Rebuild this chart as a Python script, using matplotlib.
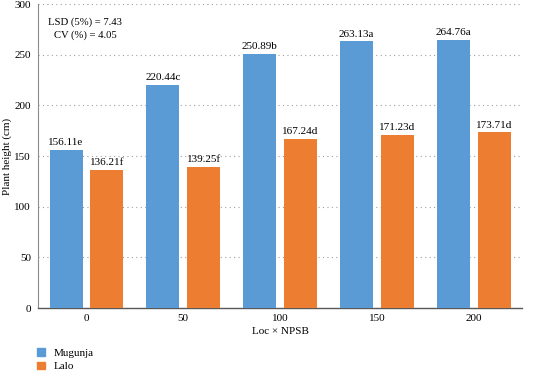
import numpy as np
import matplotlib
matplotlib.use("Agg")
from matplotlib import pyplot as plt
from matplotlib.patches import Patch

# Data
npsb_levels = ["0", "50", "100", "150", "200"]
mugunja = [156.11, 220.44, 250.89, 263.13, 264.76]
lalo = [136.21, 139.25, 167.24, 171.23, 173.71]
mugunja_letters = ["e", "c", "b", "a", "a"]
lalo_letters = ["f", "f", "d", "d", "d"]

plt.rcParams["font.family"] = ["Liberation Serif", "DejaVu Serif"]
plt.rcParams["font.size"] = 8

blue = "#5B9BD5"
orange = "#ED7D31"

fig = plt.figure(figsize=(5.38, 3.72), dpi=100)
ax = fig.add_axes([0.0706, 0.172, 0.9004, 0.817])

x = np.arange(len(npsb_levels))
width = 0.34
ax.bar(x - 0.21, mugunja, width, color=blue, zorder=3)
ax.bar(x + 0.21, lalo, width, color=orange, zorder=3)

# value labels above bars
for xi, v, l in zip(x, mugunja, mugunja_letters):
    ax.text(xi - 0.21, v + 2.5, f"{v:.2f}{l}", ha="center", va="bottom", fontsize=8)
for xi, v, l in zip(x, lalo, lalo_letters):
    ax.text(xi + 0.21, v + 2.5, f"{v:.2f}{l}", ha="center", va="bottom", fontsize=8)

ax.set_xlim(-0.5, len(npsb_levels) - 0.5)
ax.set_ylim(0, 300)
ax.set_yticks(np.arange(0, 301, 50))
ax.set_xticks(x)
ax.set_xticklabels(npsb_levels)
ax.tick_params(axis="x", length=0, pad=4)
ax.tick_params(axis="y", length=0, pad=5)

ax.yaxis.grid(True, linestyle=(0, (1, 3)), color="#a0a0a0", linewidth=0.8, zorder=0)
ax.spines["top"].set_visible(False)
ax.spines["right"].set_visible(False)
ax.spines["left"].set_color("#8c8c8c")
ax.spines["bottom"].set_color("#595959")
ax.spines["bottom"].set_linewidth(1.0)

ax.set_xlabel("Loc × NPSB", labelpad=3)
ax.set_ylabel("Plant height (cm)")
ax.yaxis.set_label_coords(-0.053, 0.5)

ax.text(0.021, 0.955, "LSD (5%) = 7.43\nCV (%) = 4.05", transform=ax.transAxes,
        ha="left", va="top", multialignment="center", fontsize=7.7, linespacing=1.45)

handles = [Patch(color=blue, label="Mugunja"), Patch(color=orange, label="Lalo")]
fig.legend(handles=handles, loc="lower left", bbox_to_anchor=(0.05, -0.025),
           frameon=False, handlelength=0.7, handleheight=0.7, handletextpad=0.8,
           labelspacing=0.35, fontsize=8)

fig.savefig("out.png", dpi=100)
